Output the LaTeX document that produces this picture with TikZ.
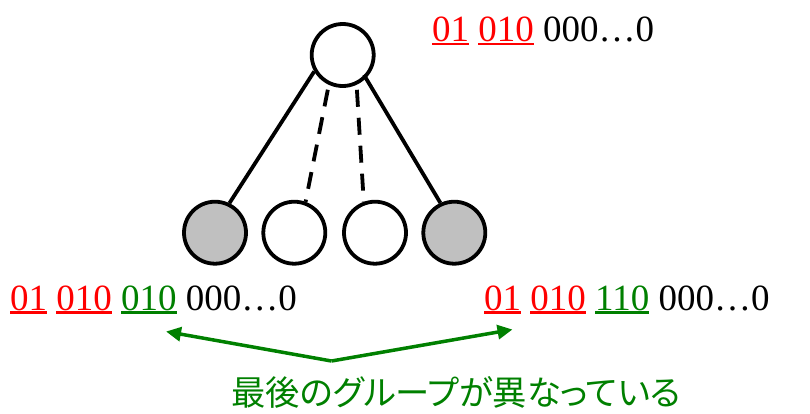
\documentclass[tikz,border=0pt]{standalone}
\usepackage{fontspec}
\setmainfont{Liberation Serif}
\newfontfamily\jpfont[RawFeature=+palt]{Noto Sans CJK JP}
\usetikzlibrary{arrows.meta}
\definecolor{myred}{RGB}{255,0,0}
\definecolor{mygreen}{RGB}{0,128,0}
\definecolor{mygray}{RGB}{192,192,192}
\newcommand\myul[2]{{\color{#1}\setbox0\hbox{#2}\rlap{\rule[-3.5pt]{\wd0}{2.2pt}}\box0}}
\begin{document}
\begin{tikzpicture}[x=1pt,y=-1pt,
 vtx/.style={circle,draw,line width=3.8pt,minimum size=62pt,inner sep=0pt},
 filled/.style={vtx,fill=mygray},
 edge/.style={line width=3.8pt},
 dashedge/.style={edge,dash pattern=on 17pt off 11pt},
 bits/.style={anchor=base west,inner sep=0pt,font=\fontsize{37}{40}\selectfont},
 garrow/.style={mygreen,line width=3.5pt,-{Triangle[length=15pt,width=14pt]}}]
\useasboundingbox (0,0) rectangle (810,413);
\node[vtx] (top) at (342.7,55) {};
\node[filled] (b1) at (215,232.7) {};
\node[vtx] (b2) at (294.3,232.7) {};
\node[vtx] (b3) at (375,232.7) {};
\node[filled] (b4) at (454.3,232.7) {};
\draw[edge] (top.210) -- (b1.64);
\draw[edge, shorten >=-4pt] (b4.115) -- (top.315);
\draw[dashedge, shorten <=5pt] (top.245) -- (b2.70);
\draw[dashedge, shorten <=5pt] (top.295) -- (b3.110);
\node[bits] (t0) at (432,41.5) {\myul{myred}{01} \myul{myred}{010} 000…0};
\node[bits] (tl) at (10,310) {\myul{myred}{01} \myul{myred}{010} \myul{mygreen}{010} 000…0};
\node[bits] (tr) at (484,310) {\myul{myred}{01} \myul{myred}{010} \myul{mygreen}{110} 000…0};
\node[font=\jpfont\fontsize{34.3}{38}\selectfont, text=mygreen, inner sep=0pt] (jp) at (456,392) {最後のグループが異なっている};
\coordinate (m) at (331.5,361);
\coordinate (la) at (166,331.5);
\coordinate (ra) at (512.5,329.5);
\draw[garrow] (m) -- (la);
\draw[garrow] (m) -- (ra);
\end{tikzpicture}
\end{document}
